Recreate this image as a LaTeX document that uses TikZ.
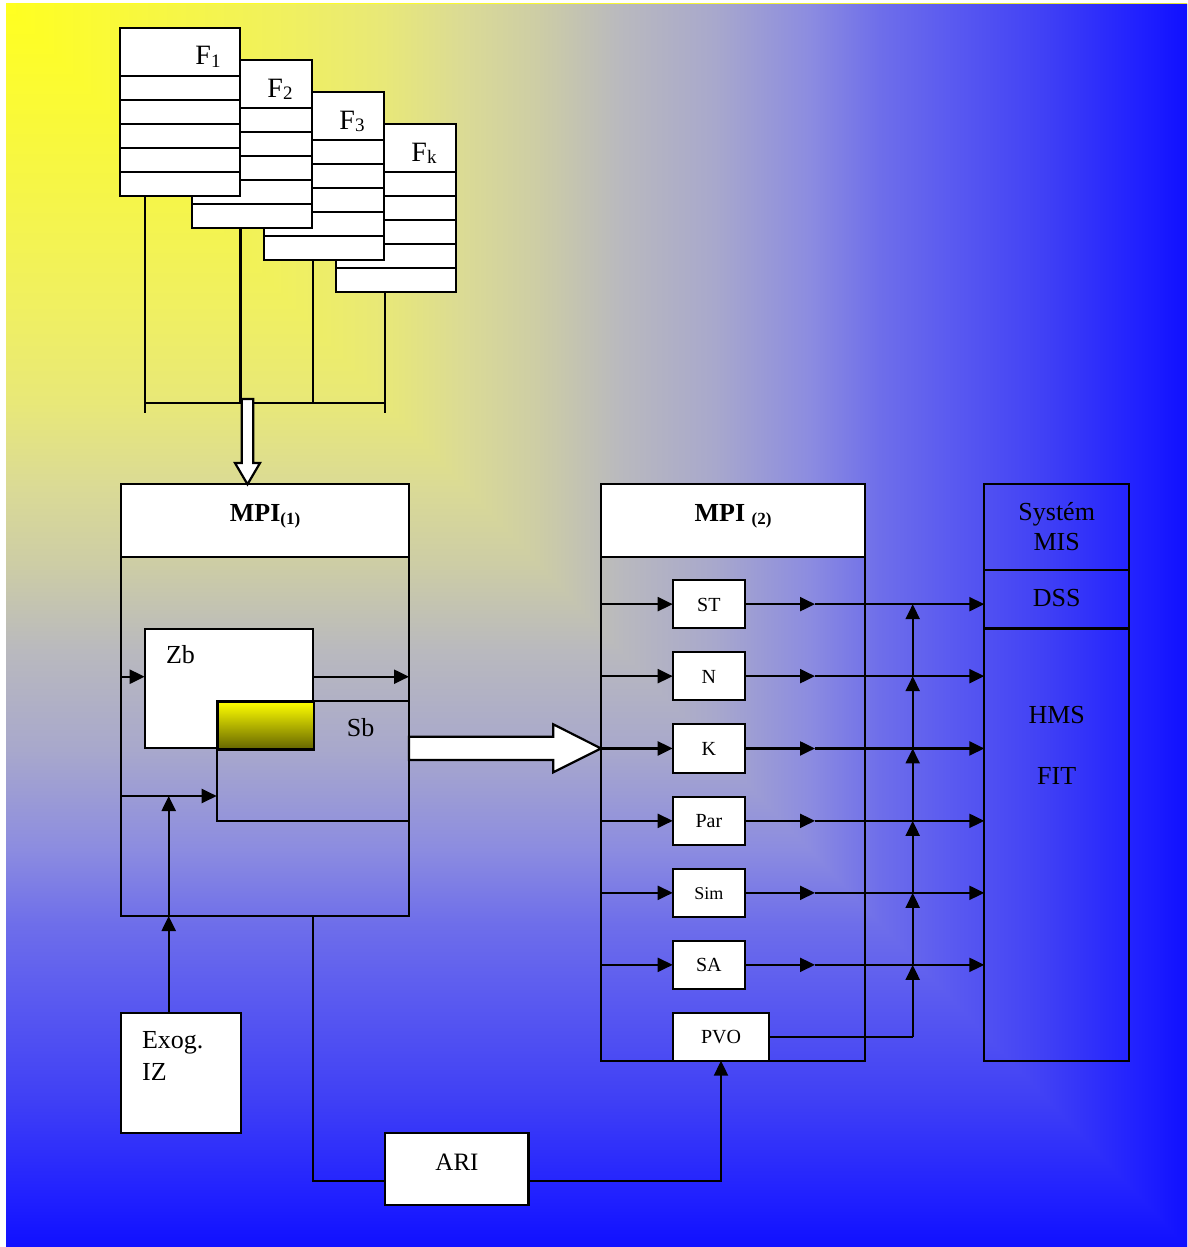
\documentclass[tikz,border=0pt]{standalone}
\usepackage{fontspec}
\setmainfont{Liberation Serif}
\usetikzlibrary{arrows.meta,calc}
\definecolor{bg0}{RGB}{255,255,32}
\definecolor{bg1}{RGB}{240,240,96}
\definecolor{bg2}{RGB}{232,232,120}
\definecolor{bg3}{RGB}{218,218,150}
\definecolor{bg4}{RGB}{205,205,165}
\definecolor{bg5}{RGB}{185,185,190}
\definecolor{bg6}{RGB}{168,168,204}
\definecolor{bg7}{RGB}{140,140,224}
\definecolor{bg8}{RGB}{110,110,234}
\definecolor{bg9}{RGB}{90,90,240}
\definecolor{bg10}{RGB}{64,64,245}
\definecolor{bg11}{RGB}{32,32,255}
\definecolor{bg12}{RGB}{16,16,255}
\definecolor{olivedark}{RGB}{100,100,0}
\pgfdeclarehorizontalshading{bgh}{100bp}{color(0bp)=(bg0); color(25bp)=(bg0); color(37bp)=(bg1); color(41bp)=(bg2); color(44.5bp)=(bg3); color(47.5bp)=(bg4); color(51bp)=(bg5); color(55bp)=(bg6); color(59bp)=(bg7); color(62bp)=(bg8); color(65bp)=(bg9); color(69bp)=(bg10); color(73bp)=(bg11); color(75bp)=(bg12); color(100bp)=(bg12)}
\pgfdeclareverticalshading{bgv}{100bp}{color(0bp)=(bg12); color(25bp)=(bg12); color(27bp)=(bg11); color(31bp)=(bg10); color(35bp)=(bg9); color(38bp)=(bg8); color(41bp)=(bg7); color(45bp)=(bg6); color(49bp)=(bg5); color(52.5bp)=(bg4); color(55.5bp)=(bg3); color(59bp)=(bg2); color(63bp)=(bg1); color(75bp)=(bg0); color(100bp)=(bg0)}
\newcommand\fsub[1]{\raisebox{-2.5pt}{\fontsize{19}{19}\selectfont #1}}
\newcommand\msub[1]{\raisebox{-3pt}{\fontsize{17}{17}\selectfont\bfseries #1}}
\begin{document}
\begin{tikzpicture}[x=1pt,y=-1pt,line width=2.2pt,
  box/.style={draw=black,fill=white,rectangle,inner sep=0pt,outer sep=0pt,anchor=north west},
  frame/.style={draw=black,rectangle,inner sep=0pt,outer sep=0pt,anchor=north west},
  arr/.style={-{Triangle[length=15pt,width=14pt]}},
  hollow/.style={draw=black,fill=white,line join=miter},
  txt/.style={inner sep=0pt,anchor=base},
  fA/.style={font=\fontsize{28}{30}\selectfont},
  fB/.style={font=\fontsize{26}{28}\selectfont},
  fBold/.style={font=\fontsize{26}{28}\selectfont\bfseries},
  fC/.style={font=\fontsize{20}{22}\selectfont},
  fD/.style={font=\fontsize{25}{27}\selectfont}]
\useasboundingbox (0,0) rectangle (1187,1247);
% background
\shade[shading=bgv] (6,4) rectangle (1187,1247);
\shade[shading=bgh] (6,4) -- (1187,4) -- (1187,1247) -- cycle;

% stacked forms
\foreach \nm/\px/\py/\lb in {fk/336/124/k,f3/264/92/3,f2/192/60/2,f1/120/28/1}{
  \node[box,minimum width=120pt,minimum height=168pt] (\nm) at (\px,\py) {};
  \foreach \r in {48,72,96,120,144}
    \draw ($(\nm.north west)+(0,\r)$) -- ($(\nm.north east)+(0,\r)$);
  \node[txt,fA] (\nm lab) at ($(\nm.north west)+(88,37)$) {F\fsub{\lb}};
}
\coordinate (bus1) at (145,403);
\coordinate (bus2) at (240.5,403);
\coordinate (bus3) at (312.7,403);
\coordinate (bus4) at (385,403);
\draw (f1.south -| bus1) -- ($(bus1)+(0,10)$);
\draw (f2.south -| bus2) -- (bus2);
\draw (f3.south -| bus3) -- (bus3);
\draw (fk.south -| bus4) -- ($(bus4)+(0,10)$);
\draw (bus1) -- (bus4);

% MPI 1
\node[frame,minimum width=288.3pt,minimum height=431.7pt] (mpi1) at (120.7,484.3) {};
\node[box,minimum width=288.3pt,minimum height=72.4pt] (mpi1h) at (120.7,484.3) {};
\node[txt,fBold] (mpi1lab) at (265,521.7) {MPI\msub{(1)}};
\coordinate (dtip) at (247.5,484.3);
\draw[hollow] (241.7,399) -- ++(11.6,0) -- ++(0,64) -- ++(6.7,0) -- (dtip) -- ++(-12.5,-21.3) -- ++(6.7,0) -- cycle;

\node[box,minimum width=168pt,minimum height=119.6pt] (zb) at (144.7,628.7) {};
\node[frame,minimum width=192.3pt,minimum height=120pt] (sb) at (216.7,700.7) {};
\node[draw=black,anchor=north west,inner sep=0pt,minimum width=96pt,minimum height=47.6pt,top color=yellow,bottom color=olivedark] (yel) at (216.7,700.7) {};
\node[txt,anchor=base west,fB] (zblab) at (165,663.3) {Zb};
\node[txt,fB] (sblab) at (360.7,736.7) {Sb};
\coordinate (zrow) at (0,676.7);
\coordinate (srow) at (0,796);
\draw[arr] (mpi1.west |- zrow) -- (zb.west |- zrow);
\draw[arr] (zb.east |- zrow) -- (mpi1.east |- zrow);
\draw[arr] (mpi1.west |- srow) -- (sb.west |- srow);

% Exog
\node[box,minimum width=119.6pt,minimum height=120pt] (exog) at (121,1012.7) {};
\node[txt,anchor=base west,fB] (exog1) at (141,1048.3) {Exog.};
\node[txt,anchor=base west,fB] (exog2) at (141,1080) {IZ};
\coordinate (exx) at (168.7,0);
\draw[arr] (exog.north -| exx) -- (mpi1.south -| exx);
\draw[arr] (mpi1.south -| exx) -- (exx |- srow);

% MIS
\node[frame,minimum width=145pt,minimum height=576.7pt] (mis) at (984.3,484.3) {};
\coordinate (d1) at (0,570);
\coordinate (d2) at (0,628.5);
\draw (mis.west |- d1) -- (mis.east |- d1);
\draw (mis.west |- d2) -- (mis.east |- d2);
\node[txt,fB] (mis1) at (1056.7,520.2) {Systém};
\node[txt,fB] (mis2) at (1056.7,550.8) {MIS};
\node[txt,fB] (dss) at (1056.7,606.3) {DSS};
\node[txt,fB] (hms) at (1056.7,723) {HMS};
\node[txt,fB] (fit) at (1056.7,784.2) {FIT};

% MPI 2
\node[frame,minimum width=264pt,minimum height=576.4pt] (mpi2) at (601,484.3) {};
\node[box,minimum width=264pt,minimum height=72.4pt] (mpi2h) at (601,484.3) {};
\node[txt,fBold] (mpi2lab) at (733,521.7) {MPI \msub{(2)}};
\foreach \nm/\lab/\yy/\fsz in {st/ST/580/20,n/N/652/20,k/K/724.3/20,par/Par/796.7/20,sim/Sim/868.7/18,sa/SA/940.7/20}{
  \node[box,minimum width=72.3pt,minimum height=48.3pt] (\nm) at (672.7,\yy) {};
  \node[txt,font=\fontsize{\fsz}{\fsz}\selectfont] (\nm lab) at ($(\nm.center)+(0,7)$) {\lab};
}
\node[box,minimum width=96.6pt,minimum height=48pt] (pvo) at (672.7,1012.7) {};
\node[txt,fC] (pvolab) at ($(pvo.center)+(0,7)$) {PVO};
\coordinate (midx) at (815,0);
\coordinate (colx) at (912.7,0);
\foreach \nm in {st,n,k,par,sim,sa}{
  \draw[arr] (mpi2.west |- \nm) -- (\nm.west);
  \draw[arr] (\nm.east) -- (midx |- \nm);
  \draw[arr] (midx |- \nm) -- (mis.west |- \nm);
}
\draw (pvo.east) -- (colx |- pvo);
\draw[arr] (colx |- pvo) -- (colx |- sa);
\draw[arr] (colx |- sa) -- (colx |- sim);
\draw[arr] (colx |- sim) -- (colx |- par);
\draw[arr] (colx |- par) -- (colx |- k);
\draw[arr] (colx |- k) -- (colx |- n);
\draw[arr] (colx |- n) -- (colx |- st);

% big hollow arrow
\coordinate (htip) at (mpi2.west |- k);
\draw[hollow] (409,736.7) -- (553.3,736.7) -- (553.3,724.3) -- (htip) -- (553.3,772.3) -- (553.3,760) -- (409,760) -- cycle;

% ARI
\node[box,minimum width=143.5pt,minimum height=72pt] (ari) at (385,1132.7) {};
\node[txt,fD] (arilab) at (457,1170) {ARI};
\coordinate (arow) at (0,1180.7);
\draw (zb.east |- mpi1.south) |- (ari.west |- arow);
\draw[arr] (ari.east |- arow) -| (pvo.south);
\end{tikzpicture}
\end{document}
